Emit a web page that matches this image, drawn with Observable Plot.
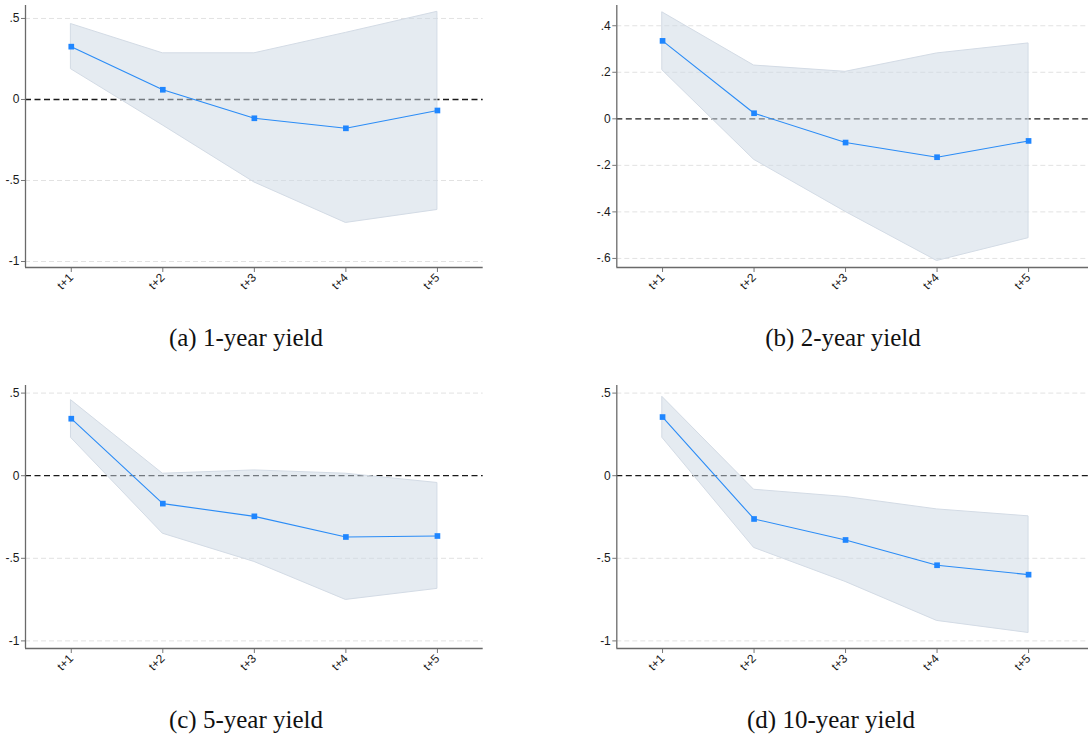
<!DOCTYPE html>
<html>
<head>
<meta charset="utf-8">
<script src="https://cdn.jsdelivr.net/npm/d3@7"></script>
<script src="https://cdn.jsdelivr.net/npm/@observablehq/plot@0.6"></script>
<style>
  html, body { margin: 0; padding: 0; background: #fff; }
  #page { position: relative; width: 1088px; height: 736px; overflow: hidden; background: #fff; }
  #page svg { position: absolute; overflow: visible; }
  .caption {
    position: absolute; width: 400px; text-align: center;
    font-family: "Liberation Serif", "Times New Roman", serif;
    font-size: 25px; line-height: 25px; color: #111; white-space: nowrap;
  }
</style>
</head>
<body>
<div id="page"></div>
<script>
// Horizons of the local projections
const horizons = ["t+1", "t+2", "t+3", "t+4", "t+5"];

// 1-year yield: point estimates and confidence bounds
const coef1y = [0.326, 0.060, -0.116, -0.178, -0.068];
const lo1y   = [0.186, -0.160, -0.512, -0.762, -0.682];
const hi1y   = [0.465, 0.285, 0.285, 0.411, 0.541];

// 2-year yield
const coef2y = [0.335, 0.024, -0.102, -0.165, -0.095];
const lo2y   = [0.208, -0.176, -0.400, -0.611, -0.513];
const hi2y   = [0.457, 0.229, 0.202, 0.281, 0.324];

// 5-year yield
const coef5y = [0.345, -0.169, -0.246, -0.371, -0.365];
const lo5y   = [0.228, -0.351, -0.522, -0.752, -0.685];
const hi5y   = [0.456, 0.012, 0.032, 0.012, -0.044];

// 10-year yield
const coef10y = [0.355, -0.262, -0.389, -0.542, -0.599];
const lo10y   = [0.228, -0.437, -0.643, -0.879, -0.952];
const hi10y   = [0.476, -0.085, -0.129, -0.204, -0.246];

// Y-axis tick values per panel
const ticksWide = [-1, -0.5, 0, 0.5];
const ticks2y   = [-0.6, -0.4, -0.2, 0, 0.2, 0.4];

// Panel captions
const captions = ["(a) 1-year yield", "(b) 2-year yield", "(c) 5-year yield", "(d) 10-year yield"];

// Stata-style number labels: ".5", "-.5", "0", "-1"
const stataFmt = d => {
  const s = String(+d.toFixed(2));
  return s.replace(/^(-?)0\./, "$1.");
};

const panels = [
  {coef: coef1y, lo: lo1y, hi: hi1y, yticks: ticksWide, ydom: [-1.037, 0.58],
   left: 0, top: 0, width: 544, height: 300, mt: 5, mb: 33, ml: 25, mr: 61.3, xmax: 5.5,
   cap: captions[0], capX: 246, capY: 325},
  {coef: coef2y, lo: lo2y, hi: hi2y, yticks: ticks2y, ydom: [-0.639, 0.487],
   left: 544, top: 0, width: 544, height: 300, mt: 5, mb: 33, ml: 72.3, mr: 0, xmax: 5.655,
   cap: captions[1], capX: 843, capY: 325},
  {coef: coef5y, lo: lo5y, hi: hi5y, yticks: ticksWide, ydom: [-1.046, 0.546],
   left: 0, top: 370, width: 544, height: 310, mt: 15, mb: 32, ml: 25, mr: 61.3, xmax: 5.5,
   cap: captions[2], capX: 246, capY: 707},
  {coef: coef10y, lo: lo10y, hi: hi10y, yticks: ticksWide, ydom: [-1.046, 0.546],
   left: 544, top: 370, width: 544, height: 310, mt: 15, mb: 32, ml: 72.3, mr: 0, xmax: 5.655,
   cap: captions[3], capX: 831, capY: 707}
];

const page = document.getElementById("page");

for (const p of panels) {
  const rows = horizons.map((h, i) => ({h: i + 1, coef: p.coef[i], lo: p.lo[i], hi: p.hi[i]}));
  const grid = p.yticks.filter(t => t !== 0);

  const svg = Plot.plot({
    width: p.width,
    height: p.height,
    marginTop: p.mt,
    marginBottom: p.mb,
    marginLeft: p.ml,
    marginRight: p.mr,
    style: {fontFamily: "'Liberation Sans', Arial, sans-serif", fontSize: "12px", color: "#222", background: "transparent"},
    x: {domain: [0.5, p.xmax], label: null},
    y: {domain: p.ydom, label: null},
    marks: [
      // light dashed gridlines
      Plot.ruleY(grid, {stroke: "#e2e2e2", strokeWidth: 1, strokeDasharray: "5,3"}),
      // reference line at zero
      Plot.ruleY([0], {stroke: "#1a1a1a", strokeWidth: 1.3, strokeDasharray: "6,3.5"}),
      // confidence band
      Plot.areaY(rows, {x: "h", y1: "lo", y2: "hi", fill: "rgb(204,215,228)", fillOpacity: 0.5,
                        stroke: "#d3dbe5", strokeWidth: 1}),
      // point estimates
      Plot.line(rows, {x: "h", y: "coef", stroke: "#2b8cf6", strokeWidth: 1.1}),
      Plot.dot(rows, {x: "h", y: "coef", symbol: "square", r: 3.2, fill: "#1f86ff", stroke: "none"}),
      // axes
      Plot.axisX({ticks: [1, 2, 3, 4, 5], tickFormat: d => horizons[d - 1], tickRotate: -45,
                  tickSize: 5, tickPadding: 3, stroke: "#777", fill: "#1a1a1a", fontSize: 12}),
      Plot.axisY({ticks: p.yticks, tickFormat: stataFmt, tickSize: 4, tickPadding: 2,
                  stroke: "#777", fill: "#1a1a1a", fontSize: 12}),
      Plot.ruleX([0.5], {stroke: "#6a6a6a", strokeWidth: 1.3}),
      Plot.ruleY([p.ydom[0]], {stroke: "#6a6a6a", strokeWidth: 1.3})
    ]
  });
  svg.style.left = p.left + "px";
  svg.style.top = p.top + "px";
  page.appendChild(svg);

  const cap = document.createElement("div");
  cap.className = "caption";
  cap.textContent = p.cap;
  cap.style.left = (p.capX - 200) + "px";
  cap.style.top = p.capY + "px";
  page.appendChild(cap);
}
</script>
</body>
</html>
